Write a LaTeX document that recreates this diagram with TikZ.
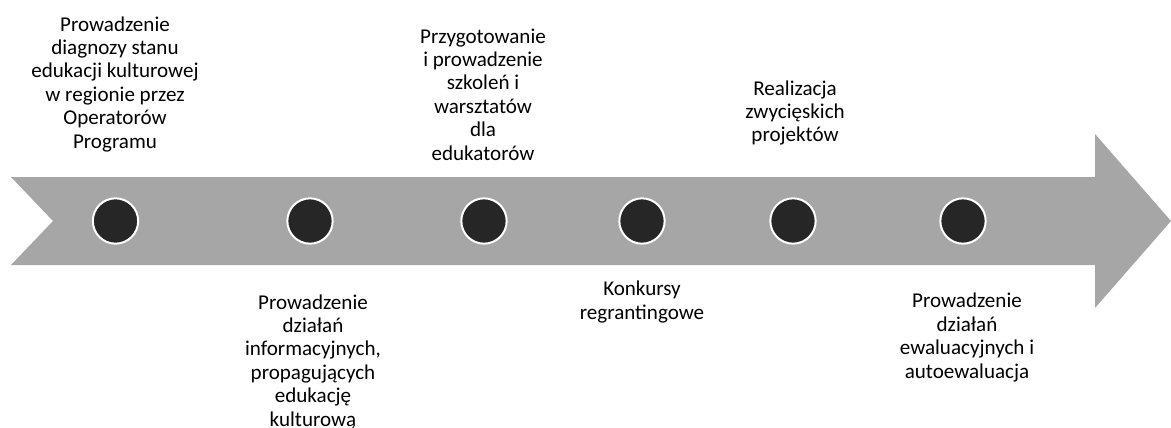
\documentclass[tikz,border=0pt]{standalone}
\usepackage{fontspec}
\setmainfont{Carlito}
\usetikzlibrary{calc}
\definecolor{arrowgray}{HTML}{A6A6A6}
\definecolor{dotgray}{HTML}{262626}

\begin{document}
\begin{tikzpicture}[x=0.75pt, y=-0.75pt,
  milestone/.style={circle, fill=dotgray, draw=white, line width=1.5pt, minimum size=34pt, inner sep=0pt},
  stagetext/.style={align=center, anchor=base, text=black, inner sep=0pt, font=\fontsize{15.8pt}{17.55pt}\selectfont}]
\useasboundingbox (0,0) rectangle (1171,428);
\fill[arrowgray] (11,177) -- (1095,177) -- (1095,134) -- (1171,221) -- (1095,308)
  -- (1095,265) -- (11,265) -- (53,221) -- cycle;
%
%
\node[milestone] (m1) at (115.5,221) {};
\node[milestone] (m2) at (310,221) {};
\node[milestone] (m3) at (484,221) {};
\node[milestone] (m4) at (642,221) {};
\node[milestone] (m5) at (793,221) {};
\node[milestone] (m6) at (963,221) {};
%
%
\node[stagetext] (t1) at (115,148) {Prowadzenie\\diagnozy stanu\\edukacji kulturowej\\w regionie przez\\Operatorów\\Programu};
\node[stagetext] (t2) at (313,426) {Prowadzenie\\działań\\informacyjnych,\\propagujących\\edukację\\kulturową};
\node[stagetext] (t3) at (483,160) {Przygotowanie\\i prowadzenie\\szkoleń i\\warsztatów\\dla\\edukatorów};
\node[stagetext] (t4) at (642,319) {Konkursy\\regrantingowe};
\node[stagetext] (t5) at (795,142) {Realizacja\\zwycięskich\\projektów};
\node[stagetext] (t6) at (967,378) {Prowadzenie\\działań\\ewaluacyjnych i\\autoewaluacja};
\end{tikzpicture}
\end{document}
